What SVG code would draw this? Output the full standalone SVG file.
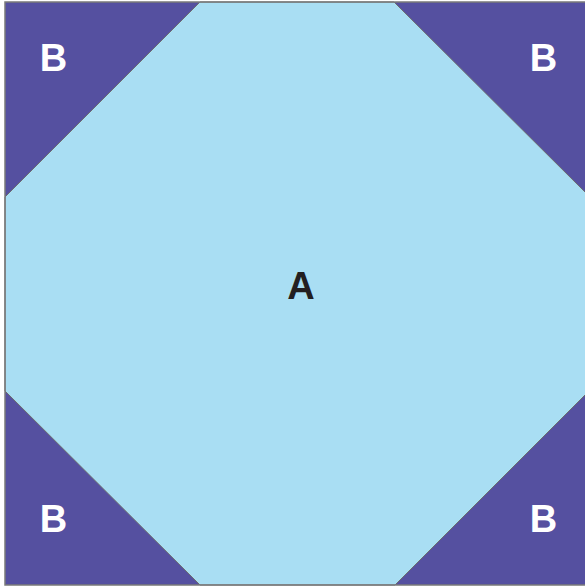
<svg xmlns="http://www.w3.org/2000/svg" width="585" height="586" viewBox="0 0 585 586">
<style>
.lbl{font-family:"Liberation Sans","DejaVu Sans",sans-serif;font-weight:bold;font-size:38px;text-anchor:middle}
.b{fill:#ffffff}
.a{fill:#231f20}
</style>
<rect width="585" height="586" fill="#ffffff"/>
<g id="B-corners">
<rect x="5" y="2" width="582" height="583" fill="#5550a0"/>
</g>
<g id="A">
<polygon points="200,2 394,2 586,193 586,394 395,585 200,585 5,391 5,197" fill="#a9def3" stroke="#6d6d6d" stroke-width="1"/>
<text class="lbl a" x="301" y="299">A</text>
</g>
<g id="frame">
<rect x="5" y="2" width="582" height="583" fill="none" stroke="#7a7a7a" stroke-width="1.5"/>
</g>
<g id="B-top-left"><text class="lbl b" x="53.5" y="71">B</text></g>
<g id="B-top-right"><text class="lbl b" x="543.5" y="71">B</text></g>
<g id="B-bottom-left"><text class="lbl b" x="53.5" y="532">B</text></g>
<g id="B-bottom-right"><text class="lbl b" x="543.5" y="532">B</text></g>
</svg>
